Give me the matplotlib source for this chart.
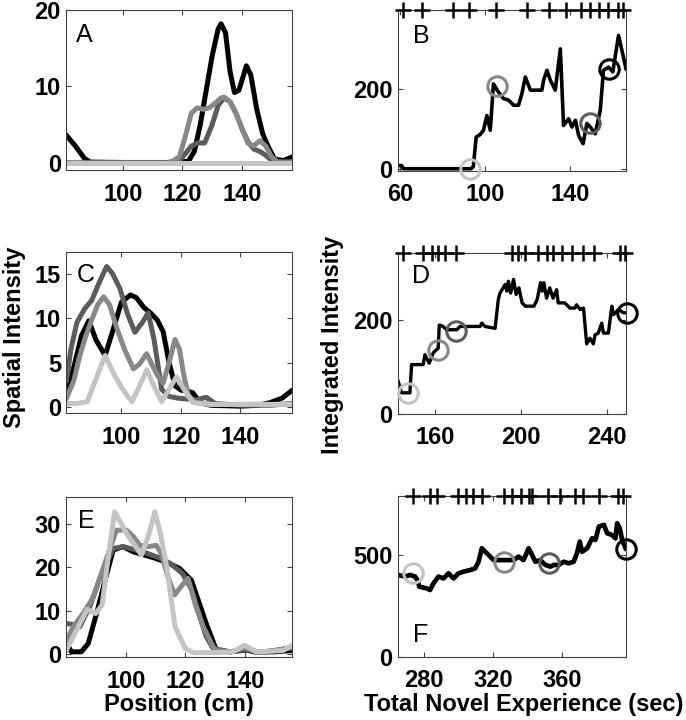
import numpy as np
import matplotlib
matplotlib.use('Agg')
import matplotlib.pyplot as plt

# Grey levels used for the four laps / sessions
c_light = '#c4c4c4'
c_mid = '#888888'
c_dark = '#5c5c5c'
c_black = '#000000'

# ---- Panel A : spatial intensity vs position ----
A_black_x = [81, 84, 87, 89, 100, 115, 122, 124, 126, 128, 130, 132, 133, 134.5, 136, 137.5, 139, 141.5, 143, 145, 147, 149, 151, 154, 157]
A_black_y = [3.6, 2.2, 0.6, 0.1, 0.05, 0.05, 0.2, 1.5, 5, 9.5, 14, 17.5, 18.2, 17, 12, 9.2, 9.5, 12.7, 11.5, 7, 3.8, 2, 0.5, 0.3, 0.8]
A_dark_x = [81, 116, 119, 121, 123, 125, 127.5, 130, 132, 134, 136, 138, 140, 142, 144, 146, 148, 150, 152, 157]
A_dark_y = [0, 0, 0.3, 1.2, 2.2, 2.6, 2.6, 5, 7.5, 8.5, 8, 6.5, 4.5, 2.8, 1.8, 1.5, 1.0, 0.3, 0.1, 0.1]
A_mid_x = [81, 115, 117, 119, 121, 123, 125, 127, 129, 131, 133, 134, 136, 138, 140, 142, 144, 146, 148, 150, 152, 157]
A_mid_y = [0, 0, 0.3, 0.8, 3.5, 6.5, 7.2, 7.0, 7.2, 7.8, 8.5, 8.6, 8.0, 6.5, 4.5, 2.6, 2.2, 2.9, 2.2, 0.8, 0.1, 0.1]
A_light_x = [81, 157]
A_light_y = [0, 0]

# ---- Panel C ----
C_black_x = [81.5, 84, 86.5, 89, 91.5, 94.5, 97, 100, 103, 105, 107.5, 110, 112, 114, 116, 118, 120, 122, 124, 126.5, 130, 140, 146, 150, 154, 157.5]
C_black_y = [1.7, 4.5, 8, 9.7, 7.5, 5.8, 8.5, 11.8, 12.6, 12.3, 11.2, 10.5, 9.8, 8.5, 5, 2.4, 1.9, 1.8, 1.6, 0.5, 0.2, 0.1, 0.2, 0.5, 1.0, 1.9]
C_dark_x = [81.5, 83, 85, 87.5, 90, 92.5, 95, 97, 99.5, 102, 104.5, 107, 109, 111, 113.5, 116, 119, 122, 125, 128.5, 131.5, 140, 150, 157.5]
C_dark_y = [3.0, 6.5, 9.5, 11.0, 12.0, 14.0, 15.8, 15.0, 13.3, 10.5, 8.4, 9.5, 10.6, 7.5, 2.0, 1.2, 1.0, 0.9, 0.8, 1.1, 0.4, 0.2, 0.2, 0.4]
C_mid_x = [81.5, 84, 86, 88, 90, 92, 94, 96, 98.5, 101, 104, 106, 108.5, 110.5, 112, 114, 116, 118, 119.5, 121, 122.5, 125, 130, 157.5]
C_mid_y = [1.0, 3.0, 5.8, 8.0, 9.8, 11.5, 12.4, 11.5, 8.8, 6.5, 4.3, 4.8, 6.0, 4.6, 3.6, 2.7, 5.0, 7.6, 6.5, 3.5, 1.3, 0.5, 0.3, 0.3]
C_light_x = [81.5, 85, 88.5, 91, 94.5, 97, 100, 103.5, 106, 108.5, 111, 113.5, 116, 118.5, 121, 124, 130, 157.5]
C_light_y = [0.4, 0.4, 0.6, 2.8, 5.8, 4.0, 2.2, 0.6, 2.3, 4.2, 2.3, 0.6, 2.0, 3.4, 2.0, 0.5, 0.3, 0.3]

# ---- Panel E ----
E_black_x = [80, 81.7, 85, 87.3, 90, 93, 95.7, 99, 102.5, 106, 110, 114, 118, 122, 124.5, 127, 130.4, 135, 140.5, 144, 150, 156]
E_black_y = [2.5, 0.5, 0.5, 2.4, 9, 17, 23.9, 24.7, 23.5, 22.8, 22, 21, 19.7, 17, 12, 7, 0.9, 0.5, 0.9, 0.4, 0.5, 0.8]
E_dark_x = [80, 82, 84.5, 87.9, 91, 95.7, 99, 103, 107, 111, 115, 119, 122, 124.8, 127, 129.3, 135, 140.5, 145, 150, 156]
E_dark_y = [7.0, 6.8, 6.3, 11, 17, 24.3, 24.7, 24.0, 23.2, 22.2, 20.8, 18.5, 15, 8.7, 4, 1.3, 0.5, 1.0, 0.4, 0.8, 1.5]
E_mid_x = [80, 82.5, 85.6, 89, 93, 96.8, 100.2, 102.5, 104.7, 107.5, 110.2, 112, 114, 116.4, 118.5, 120.9, 123.5, 126, 129.9, 135, 140, 145, 150, 156]
E_mid_y = [3.2, 6.5, 9.3, 13, 21, 28.5, 28.5, 27, 25, 24.7, 25, 23, 18, 13.6, 15.5, 17.4, 11, 6.3, 0.9, 0.4, 1.5, 0.3, 0.8, 1.5]
E_light_x = [80, 83, 87, 89.8, 92, 94, 96.2, 98, 100.2, 103, 105.2, 107.5, 109.7, 111.5, 113.7, 116.5, 119.9, 122.7, 130, 136, 139.9, 143.8, 148, 152.8, 156]
E_light_y = [0.9, 5, 10.3, 9.3, 11.3, 22, 32.7, 30.5, 27.7, 25, 22.8, 27, 32.7, 28, 20.1, 6.3, 1.3, 0.3, 0.3, 0.5, 2.0, 0.5, 0.6, 0.8, 2.0]

# ---- Panel B : integrated intensity vs experience ----
B_x = [59.2, 60.8, 61.6, 75, 93.5, 94.5, 95.9, 97.7, 99.3, 100.9, 102.5, 104, 105, 106.4, 108.7, 111.1, 113.5, 115.8, 117.4, 119, 121.4, 126.8, 127.6, 129.2, 130.8, 133.1, 135.5, 137, 139.4, 141, 142.6, 144.1, 146.2, 148, 149.6, 151.9, 154.3, 155.8, 158.2, 160.2, 162.9, 164.5, 166.4]
B_y = [8, 8, 0, 0, 0, 5, 80, 86, 97, 134, 97, 214, 205, 193, 177, 173, 160, 160, 189, 231, 198, 198, 223, 248, 223, 198, 302, 109, 126, 105, 122, 84, 63, 114, 105, 88, 147, 248, 256, 244, 336, 298, 252]
B_circ_x = [93, 105.6, 149.3, 158.2]
B_circ_y = [0, 208, 114, 252]
B_rug = [61.3, 70.2, 85.1, 92.5, 105.2, 119.9, 130.3, 138, 145.2, 149.4, 153.8, 158, 162.7, 165.1]

# ---- Panel D ----
D_x = [142.9, 144.4, 148.3, 149.1, 154.5, 155.3, 157.3, 159.2, 161.5, 162, 163.8, 165.4, 170.1, 171.7, 181, 181.8, 183.3, 188, 189.5, 190.3, 192.7, 193.5, 194.2, 195.3, 196.6, 197.8, 199.1, 200.6, 202.2, 206.1, 207.6, 209.2, 209.9, 210.7, 212, 213.5, 215, 216.7, 217.4, 220.5, 222.9, 225.2, 226, 227.6, 229.2, 230.7, 232.2, 233.8, 234.6, 236.1, 237.7, 238.5, 240.8, 242.4, 243.2, 245.5, 247.8, 249.4]
D_y = [69, 45, 45, 105, 105, 126, 108, 130, 140, 189, 186, 179, 179, 186, 186, 193, 186, 182, 243, 257, 275, 261, 282, 257, 286, 254, 268, 236, 229, 229, 243, 279, 261, 279, 246, 268, 246, 264, 236, 236, 225, 225, 232, 222, 225, 149, 161, 149, 168, 172, 193, 172, 172, 229, 211, 222, 215, 215]
D_circ_x = [147.5, 161.2, 169.8, 249.4]
D_circ_y = [45, 137, 177, 215]
D_rug = [145.2, 154.6, 158.5, 161.6, 164.7, 169.8, 195.8, 198.9, 202, 208.2, 212.1, 215.2, 219.1, 223.7, 229.2, 234.1, 246.3, 248.6]

# ---- Panel F ----
F_x = [264.9, 268.8, 271.7, 274.6, 276, 277.1, 281.4, 283.3, 285.3, 288.2, 291.1, 294, 296.9, 299.8, 302.7, 306.5, 309.4, 311.4, 313.3, 315.3, 317.2, 320.1, 325.9, 331.7, 334.6, 337.5, 340.4, 342.4, 344.3, 347.2, 350.1, 353, 354.9, 357.8, 360.7, 363.6, 366.5, 368.4, 370, 371.4, 374.3, 377.2, 379.1, 381.1, 384, 385.9, 388.8, 390.7, 391.7, 393.2, 394.6, 396.6]
F_y = [402, 394, 402, 394, 377, 344, 336, 328, 361, 394, 385, 410, 385, 410, 418, 426, 434, 467, 533, 516, 500, 475, 475, 475, 492, 475, 533, 500, 467, 475, 451, 443, 451, 451, 467, 459, 467, 508, 566, 516, 533, 582, 574, 640, 648, 607, 598, 582, 656, 631, 574, 533]
F_circ_x = [273.6, 325.9, 352, 396.6]
F_circ_y = [410, 467, 462, 528]
F_rug = [273.2, 283.3, 287.5, 299.3, 304.1, 308.4, 313.2, 326.2, 331, 335.8, 340.7, 342.6, 351.9, 358.6, 367.3, 372.1, 381.4, 391.9, 395.3]

circ_colors = [c_light, c_mid, c_dark, c_black]

plt.rcParams['font.family'] = ['Liberation Sans', 'DejaVu Sans']
plt.rcParams['font.weight'] = 'bold'
plt.rcParams['font.size'] = 17

fig = plt.figure(figsize=(6.86, 7.2), dpi=100)


def style_axes(ax, xlim, ylim, xticks, yticks):
    # MATLAB-like boxed axes with inward ticks
    ax.set_xlim(xlim)
    ax.set_ylim(ylim)
    ax.set_xticks(xticks)
    ax.set_yticks(yticks)
    ax.tick_params(direction='in', top=True, right=True, length=3.5,
                   width=0.8, color='#444444', labelsize=17)
    ax.tick_params(axis='x', pad=9)
    ax.tick_params(axis='y', pad=4)
    for s in ax.spines.values():
        s.set_color('#444444')
        s.set_linewidth(0.8)


def panel_letter(ax, letter, x, y):
    ax.text(x, y, letter, transform=ax.transAxes, fontsize=18,
            fontweight='normal', ha='left', va='baseline')


def spatial_panel(rect, curves, xlim, ylim, yticks, letter, lpos):
    ax = fig.add_axes(rect)
    for (x, y), col in zip(curves, [c_black, c_dark, c_mid, c_light]):
        ax.plot(x, y, color=col, lw=3.6, solid_joinstyle='round')
    style_axes(ax, xlim, ylim, [100, 120, 140], yticks)
    panel_letter(ax, letter, *lpos)
    return ax


def integrated_panel(rect, x, y, cx, cy, rug, xlim, ylim, xticks, yticks, letter, lpos, lw):
    ax = fig.add_axes(rect)
    ax.plot(x, y, color='k', lw=lw, solid_joinstyle='round')
    # circles marking the sessions shown on the left, drawn over the edge
    for i in range(len(cx)):
        ax.plot(cx[i], cy[i], 'o', ms=14, mfc='none', mec=circ_colors[i], mew=2.2,
                clip_on=False, zorder=4)
    style_axes(ax, xlim, ylim, xticks, yticks)
    # rug of event times along the top edge
    ax.plot(rug, [ylim[1]] * len(rug), '+', ms=12, mew=1.8, color='k',
            clip_on=False, zorder=5)
    panel_letter(ax, letter, *lpos)
    return ax


spatial_panel([0.0969, 0.7632, 0.3294, 0.2229],
              [(A_black_x, A_black_y), (A_dark_x, A_dark_y), (A_mid_x, A_mid_y), (A_light_x, A_light_y)],
              (81, 157), (-1, 20), [0, 10, 20], 'A', (0.044, 0.80))
spatial_panel([0.0969, 0.4260, 0.3294, 0.2236],
              [(C_black_x, C_black_y), (C_dark_x, C_dark_y), (C_mid_x, C_mid_y), (C_light_x, C_light_y)],
              (81.5, 157.5), (-0.7, 17.4), [0, 5, 10, 15], 'C', (0.044, 0.816))
spatial_panel([0.0969, 0.0871, 0.3294, 0.2231],
              [(E_black_x, E_black_y), (E_dark_x, E_dark_y), (E_mid_x, E_mid_y), (E_light_x, E_light_y)],
              (80, 156), (-0.76, 36.2), [0, 10, 20, 30], 'E', (0.05, 0.805))

integrated_panel([0.5806, 0.7629, 0.3319, 0.2232], B_x, B_y, B_circ_x, B_circ_y, B_rug,
                 (59.2, 166.4), (-5, 400), [60, 100, 140], [0, 200], 'B', (0.066, 0.795), 2.6)
integrated_panel([0.5806, 0.4250, 0.3319, 0.2236], D_x, D_y, D_circ_x, D_circ_y, D_rug,
                 (142.9, 249), (0, 342), [160, 200, 240], [0, 200], 'D', (0.061, 0.814), 2.4)
integrated_panel([0.5806, 0.0879, 0.3319, 0.2232], F_x, F_y, F_circ_x, F_circ_y, F_rug,
                 (264.9, 396.8), (0, 790), [280, 320, 360], [0, 500], 'F', (0.066, 0.091), 3.4)

# Shared axis labels
fig.text(14.7 / 686, 1 - 337 / 720, 'Spatial Intensity', rotation=90,
         ha='center', va='center', fontsize=17)
fig.text(332 / 686, 1 - 344.5 / 720, 'Integrated Intensity', rotation=90,
         ha='center', va='center', fontsize=17)
fig.text(179 / 686, 1 - 711 / 720, 'Position (cm)', ha='center', va='baseline', fontsize=17)
fig.text(524 / 686, 1 - 711 / 720, 'Total Novel Experience (sec)', ha='center',
         va='baseline', fontsize=17)

fig.savefig('out.png', dpi=100)
